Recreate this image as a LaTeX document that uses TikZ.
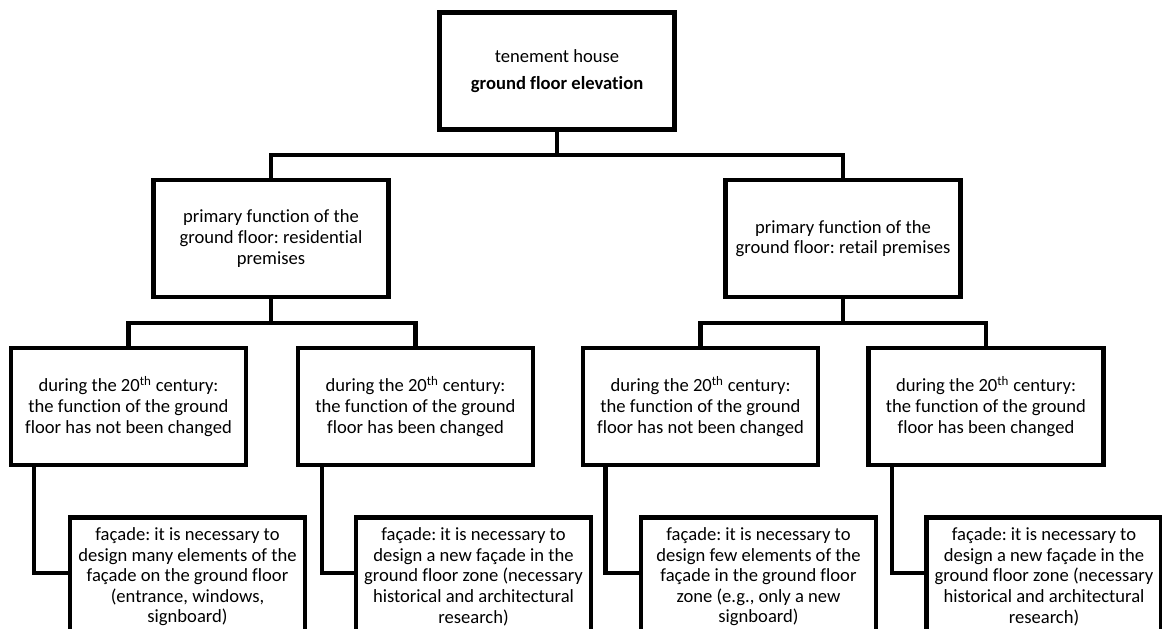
\documentclass[tikz,border=0pt]{standalone}
\usepackage{fontspec}
\setmainfont{Carlito}[Ligatures={NoCommon}]
\frenchspacing
\begin{document}
\begin{tikzpicture}[x=1pt,y=-1pt,
  box/.style={draw, line width=4.5pt, minimum width=235pt, minimum height=117pt,
    align=center, inner sep=0pt, fill=white,
    font=\fontsize{18.6}{20.6}\selectfont\frenchspacing},
  conn/.style={line width=4.5pt, line join=miter}]
\useasboundingbox (0,0) rectangle (1162,629);
\clip (0,0) rectangle (1162,629);
\fill[white] (0,0) rectangle (1162,629);

\node[box] (top) at (557,71) {tenement house\\[7pt]\textbf{ground floor elevation}};
\node[box] (res) at (271,238.5) {primary function of the\\ground floor: residential\\premises};
\node[box] (ret) at (843,238.5) {primary function of the\\ground floor: retail premises};

\node[box] (a) at (128.5,406.5) {during the 20\textsuperscript{th} century:\\the function of the ground\\floor has not been changed};
\node[box] (b) at (415.5,406.5) {during the 20\textsuperscript{th} century:\\the function of the ground\\floor has been changed};
\node[box] (c) at (700.5,406.5) {during the 20\textsuperscript{th} century:\\the function of the ground\\floor has not been changed};
\node[box] (d) at (986,406.5) {during the 20\textsuperscript{th} century:\\the function of the ground\\floor has been changed};

\node[box,anchor=north,minimum height=119pt] (fa) at (187.5,515) {façade: it is necessary to\\design many elements of the\\façade on the ground floor\\(entrance, windows,\\signboard)};
\node[box,anchor=north,minimum height=119pt] (fb) at (473.5,515) {façade: it is necessary to\\design a new façade in the\\ground floor zone (necessary\\historical and architectural\\research)};
\node[box,anchor=north,minimum height=119pt] (fc) at (758.5,515) {façade: it is necessary to\\design few elements of the\\façade in the ground floor\\zone (e.g., only a new\\signboard)};
\node[box,anchor=north,minimum height=119pt] (fd) at (1044,515) {façade: it is necessary to\\design a new façade in the\\ground floor zone (necessary\\historical and architectural\\research)};

\coordinate (t1) at (557,155);
\coordinate (t2) at (271,323);
\coordinate (t3) at (843,323);
\coordinate (ea) at (34,573);
\coordinate (eb) at (322,573);
\coordinate (ec) at (605.5,573);
\coordinate (ed) at (892,573);

\draw[conn] (top.south) -- (t1);
\draw[conn] (res.north) |- (t1) -| (ret.north);
\draw[conn] (res.south) -- (t2);
\draw[conn] (a.north) |- (t2) -| (b.north);
\draw[conn] (ret.south) -- (t3);
\draw[conn] (c.north) |- (t3) -| (d.north);

\draw[conn] (a.south -| ea) -- (ea) -- (fa.west |- ea);
\draw[conn] (b.south -| eb) -- (eb) -- (fb.west |- eb);
\draw[conn] (c.south -| ec) -- (ec) -- (fc.west |- ec);
\draw[conn] (d.south -| ed) -- (ed) -- (fd.west |- ed);
\end{tikzpicture}
\end{document}
